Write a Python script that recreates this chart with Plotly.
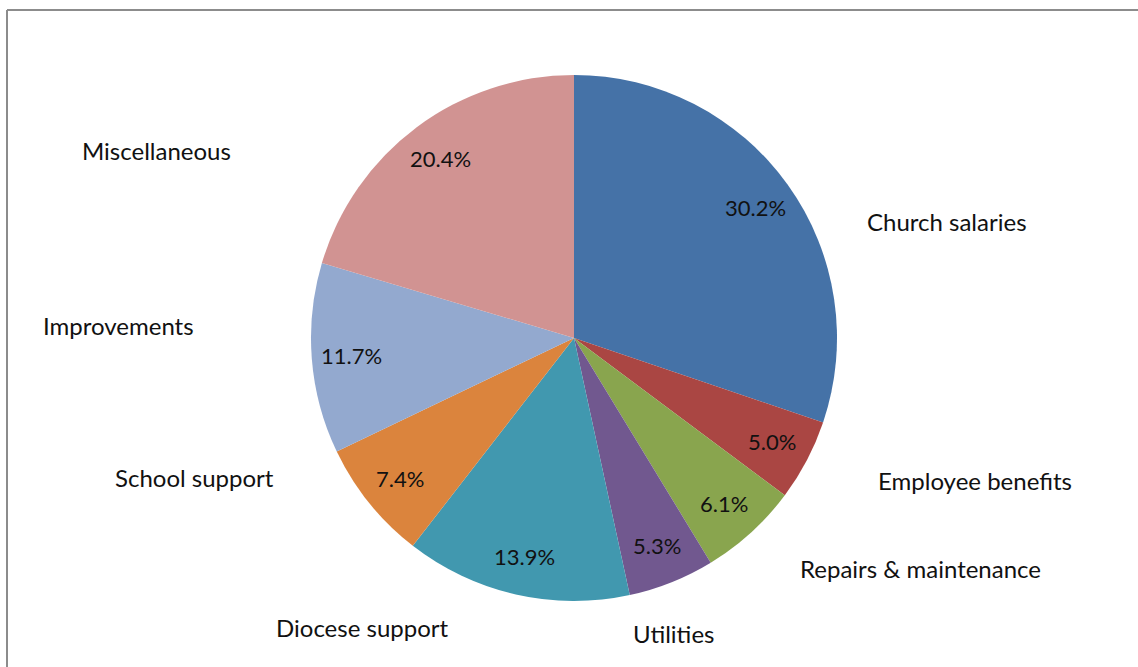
import math
import plotly.graph_objects as go

# ---- data ----
categories = ["Church salaries", "Employee benefits", "Repairs & maintenance", "Utilities",
              "Diocese support", "School support", "Improvements", "Miscellaneous"]
values = [30.2, 5.0, 6.1, 5.3, 13.9, 7.4, 11.7, 20.4]
colors = ["#4572A7", "#AA4643", "#89A54E", "#71588F", "#4198AF", "#DB843D", "#93A9CF", "#D19392"]

# ---- layout geometry (pixels, page coordinates) ----
W, H = 1138, 667
CX, CY, R = 574, 338, 263
FONT = "Lato"

# outside category label placement (page pixel anchor, xanchor)
label_layout = [
    (865, 222, "left"),
    (876, 480, "left"),
    (798, 568, "left"),
    (674, 633, "center"),
    (362, 627, "center"),
    (276, 477, "right"),
    (196, 325, "right"),
    (233, 150, "right"),
]

fig = go.Figure()
fig.add_trace(go.Pie(
    labels=categories, values=values, sort=False, direction="clockwise", rotation=0,
    marker=dict(colors=colors, line=dict(width=0)),
    textinfo="none", hoverinfo="label+percent", showlegend=False,
    domain=dict(x=[(CX - R) / W, (CX + R) / W], y=[(H - CY - R) / H, (H - CY + R) / H]),
))

annotations = []
total = sum(values)
cum = 0.0
for cat, v, (lx, ly, anc) in zip(categories, values, label_layout):
    mid = (cum + v / 2) / total * 2 * math.pi
    cum += v
    px = CX + 0.85 * R * math.sin(mid)
    py = CY - 0.85 * R * math.cos(mid)
    annotations.append(dict(x=px / W, y=1 - py / H, xref="paper", yref="paper",
                            text=f"{v / total * 100:.1f}%", showarrow=False,
                            xanchor="center", yanchor="middle",
                            font=dict(family=FONT, size=22, color="#111111")))
    annotations.append(dict(x=lx / W, y=1 - ly / H, xref="paper", yref="paper",
                            text=cat, showarrow=False, xanchor=anc, yanchor="middle",
                            font=dict(family=FONT, size=24, color="#111111")))

bx, by = 7 / W, 1 - 10 / H
fig.update_layout(
    width=W, height=H, margin=dict(l=0, r=0, t=0, b=0),
    paper_bgcolor="white", plot_bgcolor="white",
    annotations=annotations,
    shapes=[
        dict(type="line", xref="paper", yref="paper", x0=bx, x1=1, y0=by, y1=by,
             line=dict(color="#8C8C8C", width=2)),
        dict(type="line", xref="paper", yref="paper", x0=bx, x1=bx, y0=0, y1=by,
             line=dict(color="#8C8C8C", width=2)),
    ],
)

fig.write_html("out.html", config={"displayModeBar": False},
               post_script="document.body.style.margin='0px';")
